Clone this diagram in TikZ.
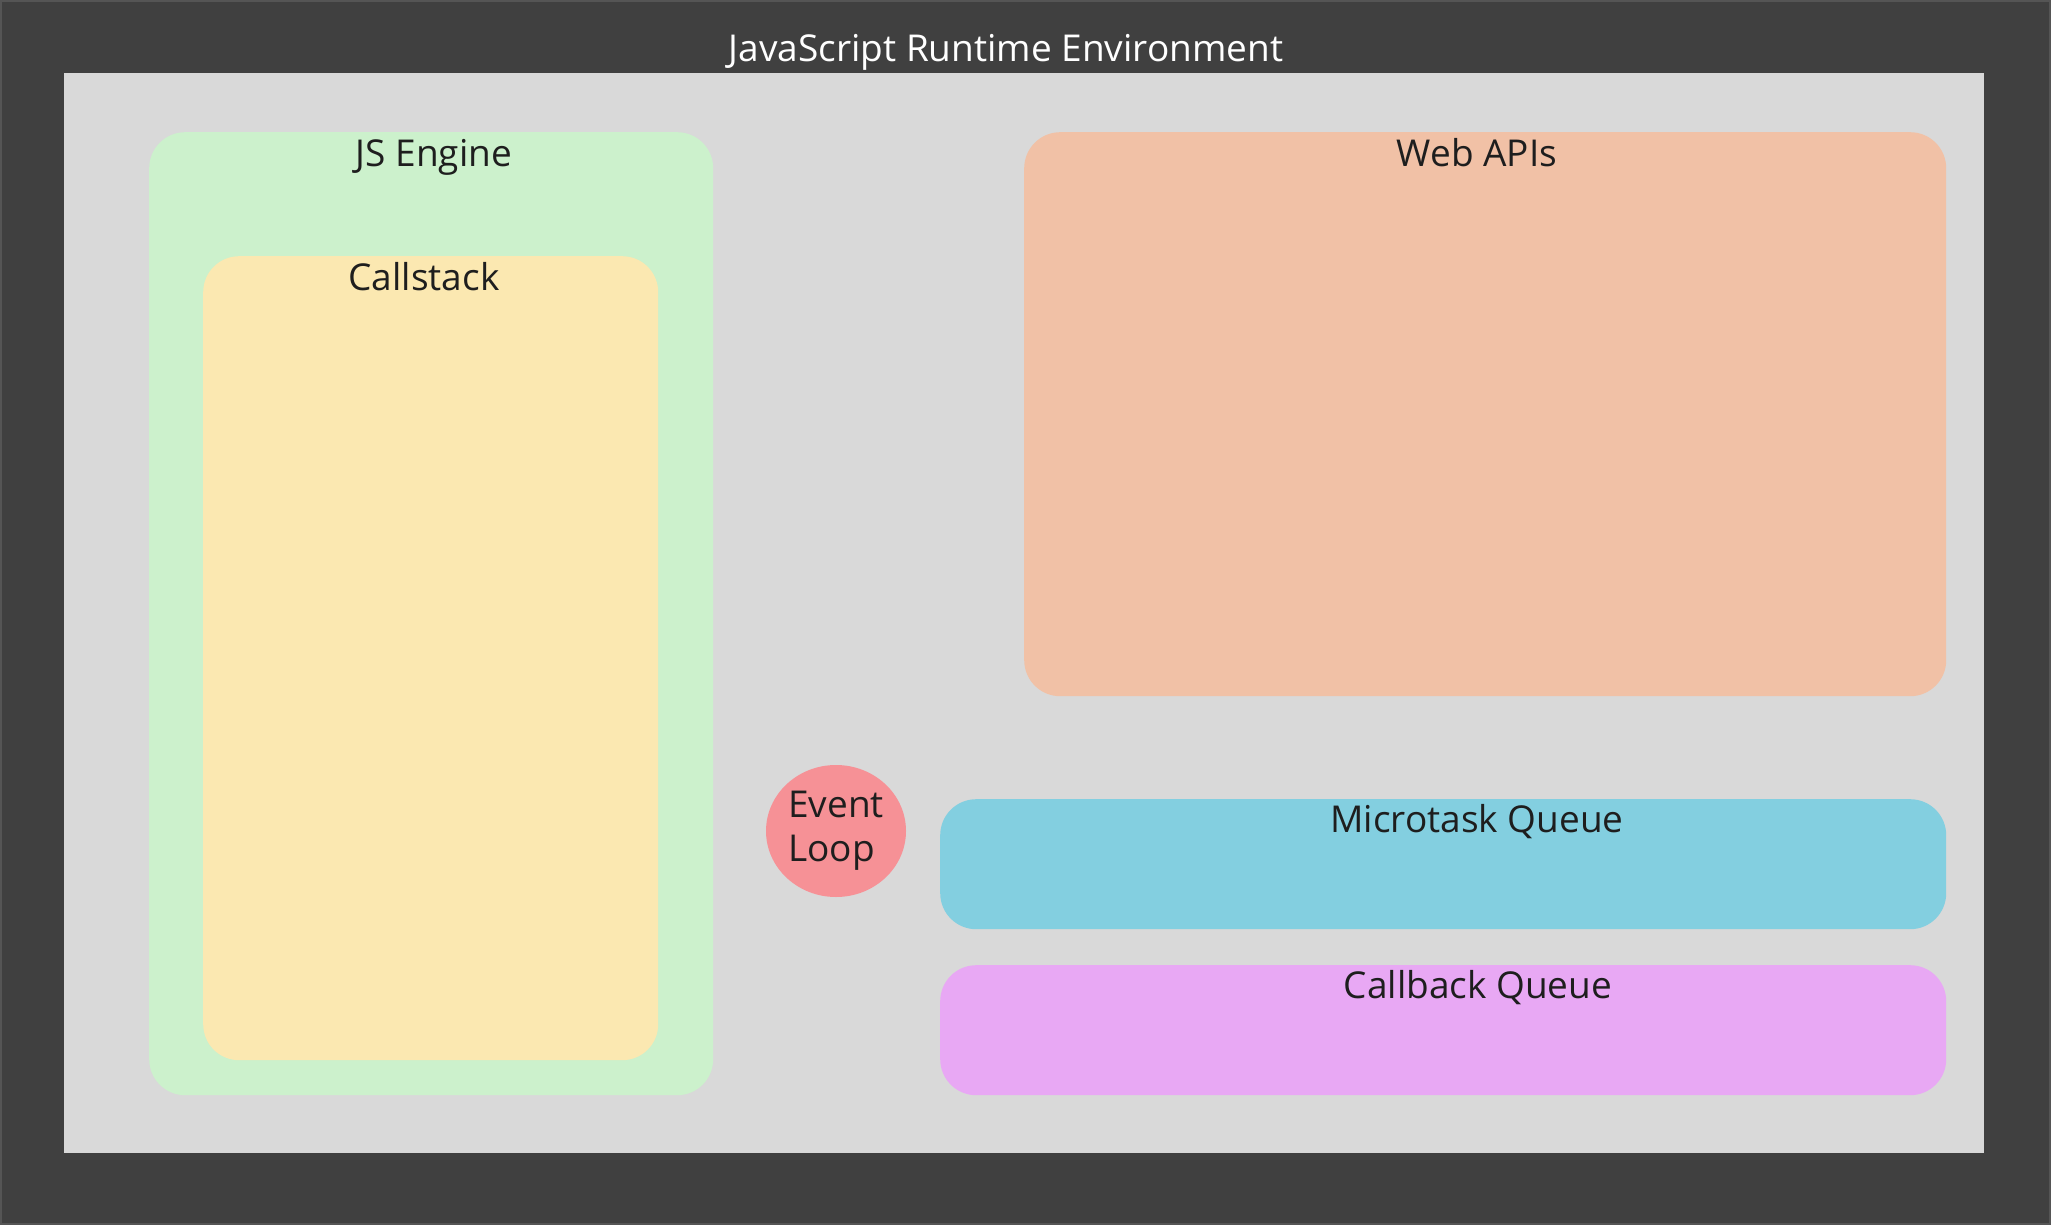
\documentclass[tikz,border=0pt]{standalone}
\usepackage{fontspec}
\setmainfont{Open Sans}
\usetikzlibrary{positioning, shapes.geometric}

\definecolor{framebg}{HTML}{404040}
\definecolor{frameedge}{HTML}{555555}
\definecolor{envbg}{HTML}{D9D9D9}
\definecolor{enginebg}{HTML}{CCF1CC}
\definecolor{stackbg}{HTML}{FBE8B1}
\definecolor{apibg}{HTML}{F1C1A6}
\definecolor{microbg}{HTML}{83CFE0}
\definecolor{callbackbg}{HTML}{E8A8F4}
\definecolor{loopbg}{HTML}{F69196}
\definecolor{labeltext}{HTML}{1E1E1E}

\newcommand{\lblfont}{\fontsize{37}{44}\selectfont}

\tikzset{
  area/.style={rectangle, rounded corners=36pt, inner sep=0pt, anchor=north west},
  lbl/.style={font=\lblfont, text=labeltext, anchor=base, inner sep=0pt},
}

\begin{document}
\begin{tikzpicture}[x=1pt,y=-1pt]
  \useasboundingbox (0,0) rectangle (2051,1225);

  % Background frame
  \fill[framebg] (0,0) rectangle (2051,1225);
  \draw[frameedge,line width=2pt] (1,1) rectangle (2050,1224);

  % Runtime environment
  \node[rectangle, inner sep=0pt, anchor=north west, fill=envbg,
        minimum width=1920pt, minimum height=1080pt] (env) at (64,73) {};
  \node[lbl, text=white] (envtitle) at (1006,62) {JavaScript Runtime Environment};

  % JS engine and callstack
  \node[area, fill=enginebg, minimum width=564pt, minimum height=963pt] (engine) at (149,132) {};
  \node[lbl] (enginelbl) at (434,167) {JS Engine};
  \node[area, fill=stackbg, minimum width=455pt, minimum height=804pt] (stack) at (203,256) {};
  \node[lbl] (stacklbl) at (424,290) {Callstack};

  % Web APIs
  \node[area, fill=apibg, minimum width=922pt, minimum height=564pt] (webapi) at (1024,132) {};
  \node[lbl] (webapilbl) at (1477,167) {Web APIs};

  % Queues
  \node[area, fill=microbg, minimum width=1006pt, minimum height=130pt] (micro) at (940,799) {};
  \node[lbl] (microlbl) at (1477,832) {Microtask Queue};
  \node[area, fill=callbackbg, minimum width=1006pt, minimum height=130pt] (callback) at (940,965) {};
  \node[lbl] (callbacklbl) at (1478,998) {Callback Queue};

  % Event loop
  \node[ellipse, fill=loopbg, minimum width=140pt, minimum height=132pt, inner sep=0pt,
        font=\lblfont, text=labeltext, align=left] (loop) at (836,831) {Event\\Loop};
\end{tikzpicture}
\end{document}
